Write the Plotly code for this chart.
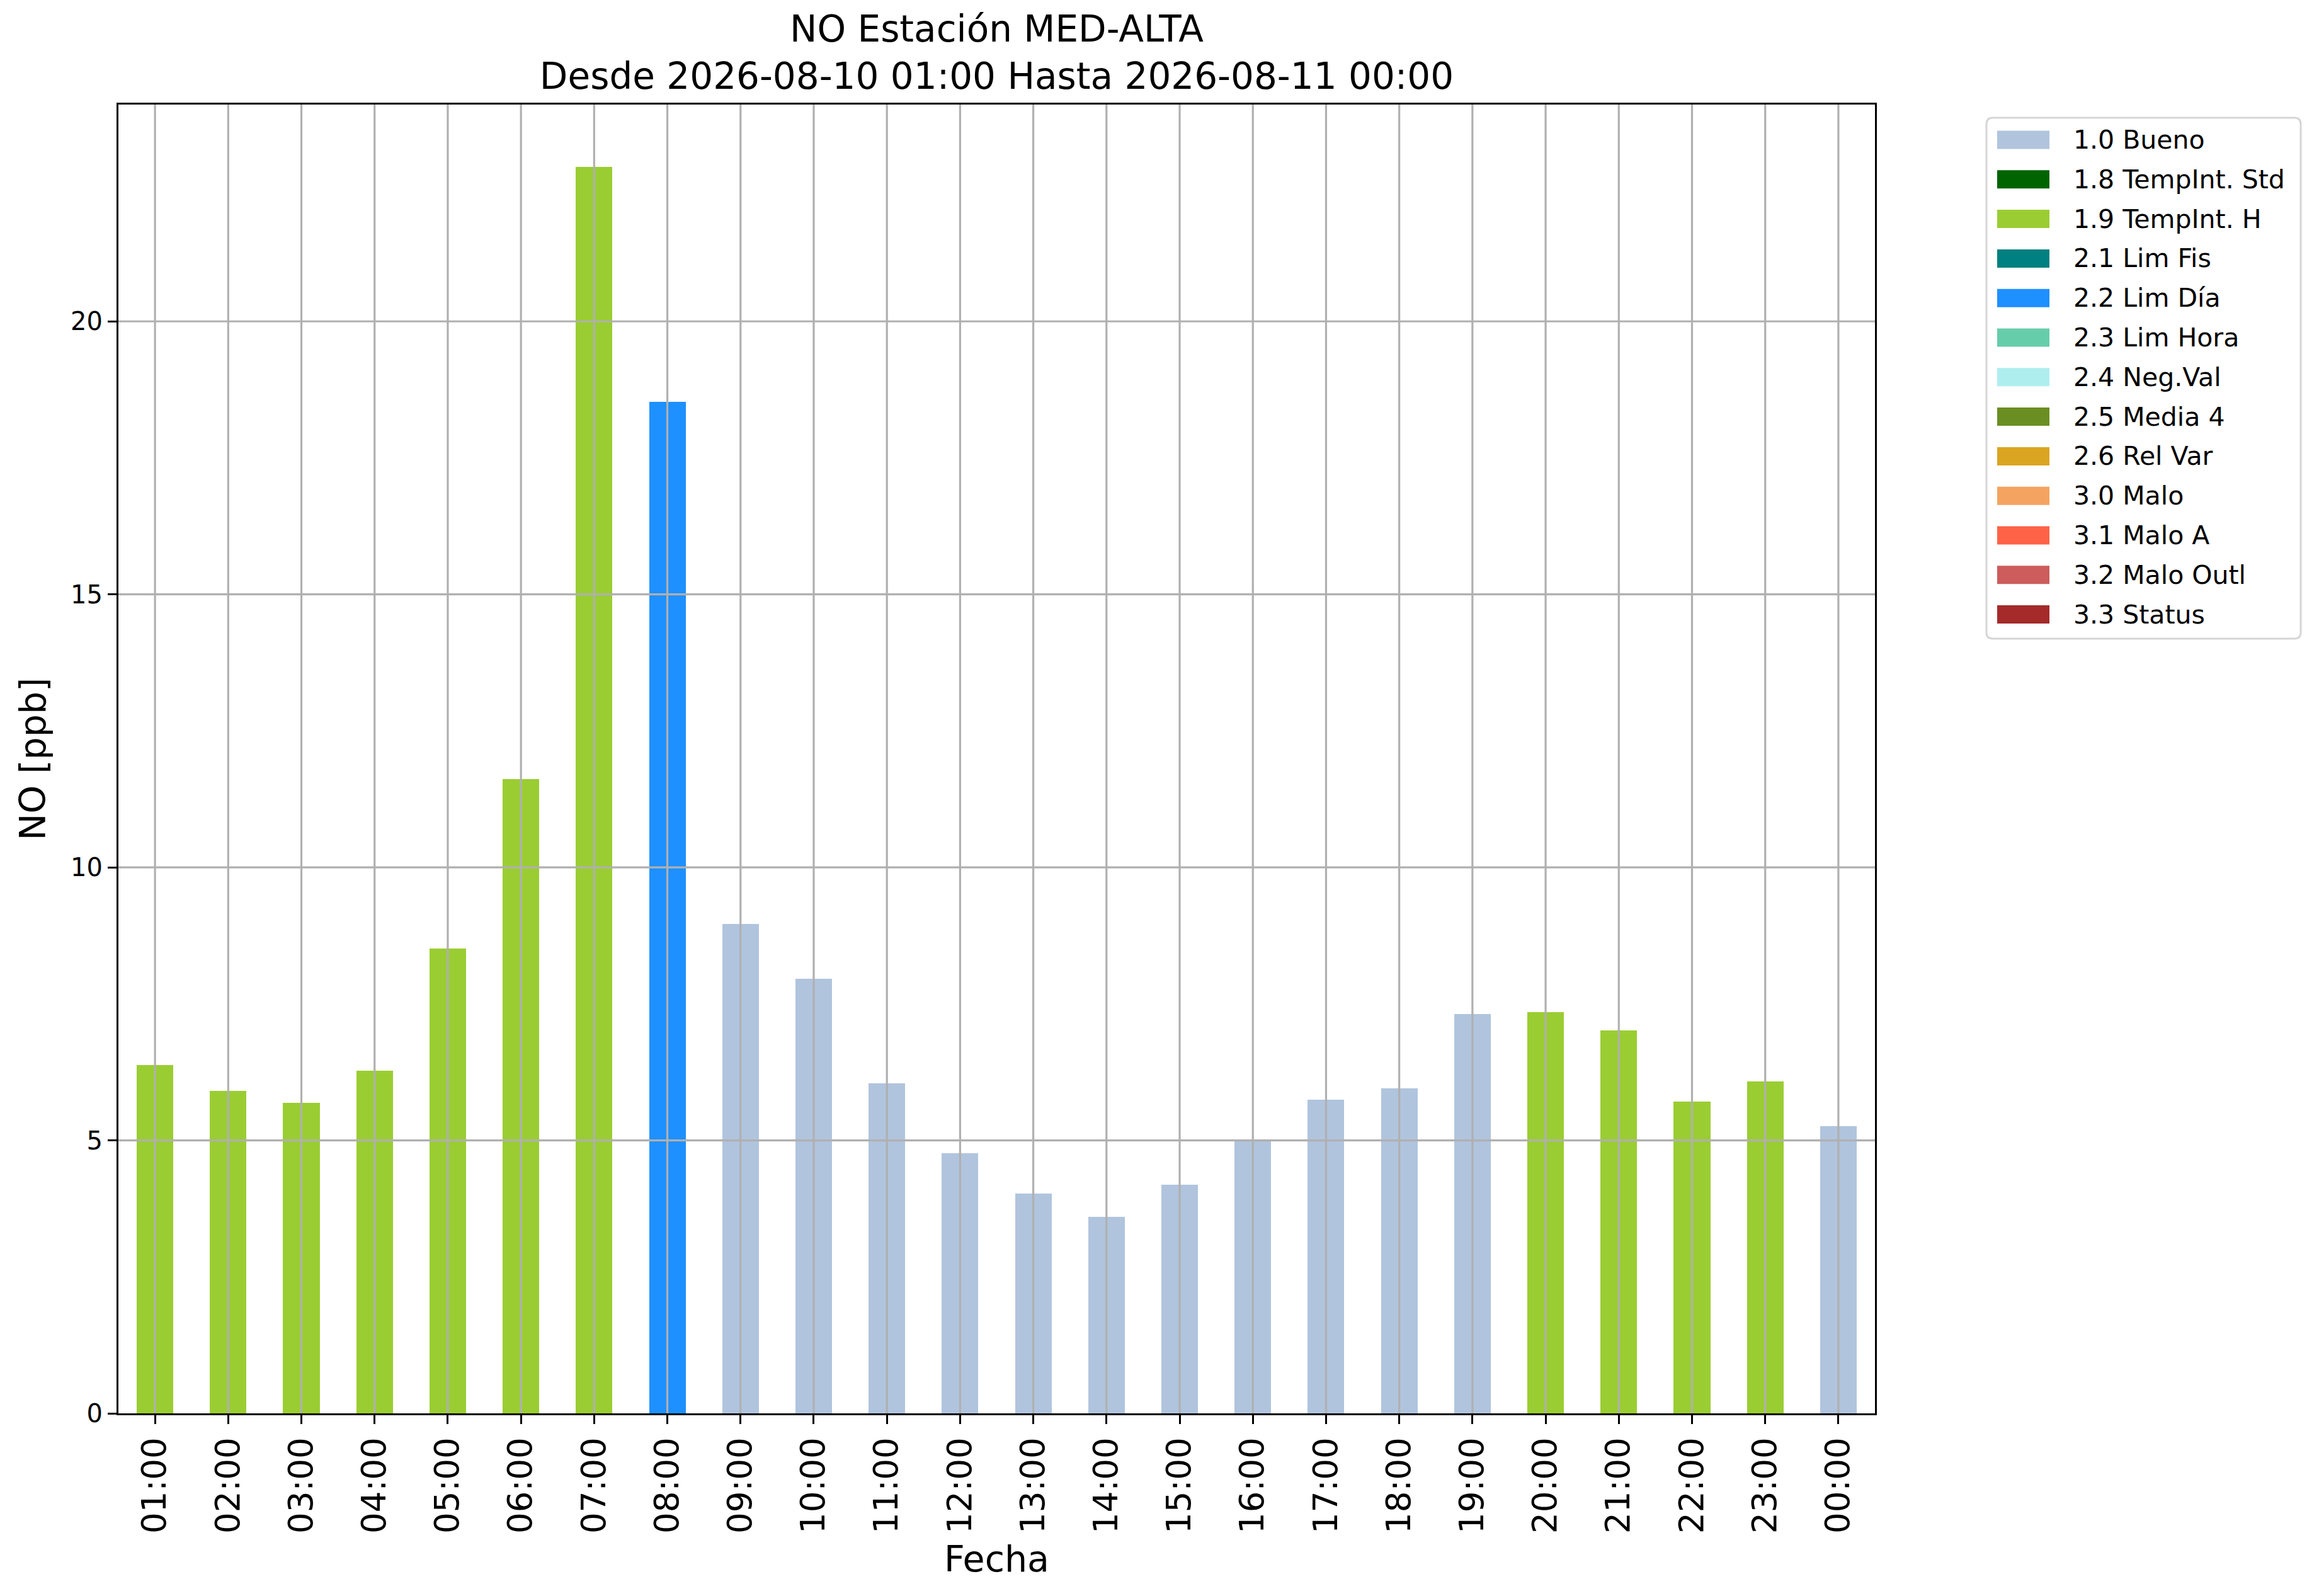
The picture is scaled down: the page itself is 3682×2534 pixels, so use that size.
import plotly.graph_objects as go

# ---------------- data ----------------
hours = ["01:00", "02:00", "03:00", "04:00", "05:00", "06:00", "07:00", "08:00",
         "09:00", "10:00", "11:00", "12:00", "13:00", "14:00", "15:00", "16:00",
         "17:00", "18:00", "19:00", "20:00", "21:00", "22:00", "23:00", "00:00"]
no_values = [6.38, 5.91, 5.69, 6.28, 8.51, 11.62, 22.83, 18.53,
             8.96, 7.96, 6.05, 4.76, 4.03, 3.60, 4.19, 4.99,
             5.75, 5.95, 7.31, 7.35, 7.01, 5.71, 6.08, 5.26]
flags = ["1.9", "1.9", "1.9", "1.9", "1.9", "1.9", "1.9", "2.2",
         "1.0", "1.0", "1.0", "1.0", "1.0", "1.0", "1.0", "1.0",
         "1.0", "1.0", "1.0", "1.9", "1.9", "1.9", "1.9", "1.0"]
flag_codes = ["1.0", "1.8", "1.9", "2.1", "2.2", "2.3", "2.4", "2.5", "2.6",
              "3.0", "3.1", "3.2", "3.3"]
flag_names = ["1.0 Bueno", "1.8 TempInt. Std", "1.9 TempInt. H", "2.1 Lim Fis",
              "2.2 Lim Día", "2.3 Lim Hora", "2.4 Neg.Val", "2.5 Media 4",
              "2.6 Rel Var", "3.0 Malo", "3.1 Malo A", "3.2 Malo Outl", "3.3 Status"]
flag_colors = ["#B0C4DE", "#006400", "#9ACD32", "#008080", "#1E90FF", "#66CDAA",
               "#AFEEEE", "#6B8E23", "#DAA520", "#F4A460", "#FF6347", "#CD5C5C",
               "#A52A2A"]
y_ticks = [0, 5, 10, 15, 20]

FONT = "DejaVu Sans"
GRID = "#b0b0b0"

W, H = 3682, 2534
ML, MR, MT, MB = 188, 705, 166, 290
PW, PH = W - ML - MR, H - MT - MB


def px_x(px):
    return (px - ML) / PW


def px_y(py):
    return (H - MB - py) / PH


fig = go.Figure()

for code, name, color in zip(flag_codes, flag_names, flag_colors):
    yv = [v if f == code else None for v, f in zip(no_values, flags)]
    fig.add_trace(go.Bar(x=hours, y=yv, name=name,
                         marker=dict(color=color, line=dict(width=0)),
                         width=0.5, showlegend=False))

# grid lines drawn above the bars (as in the reference)
for h in hours:
    fig.add_shape(type="line", xref="x", yref="paper", x0=h, x1=h, y0=0, y1=1,
                  line=dict(color=GRID, width=3.2), layer="above")
for t in y_ticks:
    if t > 0:
        fig.add_shape(type="line", xref="paper", yref="y", x0=0, x1=1, y0=t, y1=t,
                      line=dict(color=GRID, width=3.2), layer="above")

# ---- legend box (matplotlib style: wide swatches, rounded frame) ----
lx0, ly0, lx1, ly1 = 3154, 187, 3653, 1014
r = 10
rx, ry = r / PW, r / PH
X0, X1, Y0, Y1 = px_x(lx0), px_x(lx1), px_y(ly1), px_y(ly0)
path = (f"M {X0 + rx},{Y1} L {X1 - rx},{Y1} Q {X1},{Y1} {X1},{Y1 - ry} "
        f"L {X1},{Y0 + ry} Q {X1},{Y0} {X1 - rx},{Y0} "
        f"L {X0 + rx},{Y0} Q {X0},{Y0} {X0},{Y0 + ry} "
        f"L {X0},{Y1 - ry} Q {X0},{Y1} {X0 + rx},{Y1} Z")
fig.add_shape(type="path", xref="paper", yref="paper", path=path,
              line=dict(color="#d6d6d6", width=3), fillcolor="white", layer="above")
row0, row_step = 222, 62.8
for i, (name, color) in enumerate(zip(flag_names, flag_colors)):
    cy = row0 + i * row_step
    fig.add_shape(type="rect", xref="paper", yref="paper",
                  x0=px_x(3171), x1=px_x(3254), y0=px_y(cy + 14.5), y1=px_y(cy - 14.5),
                  line=dict(width=0), fillcolor=color, layer="above")
    fig.add_annotation(text=name, xref="paper", yref="paper", x=px_x(3290), y=px_y(cy),
                       xanchor="left", yanchor="middle", showarrow=False,
                       font=dict(family=FONT, size=41, color="black"))

ymax = max(no_values) * 1.05

fig.update_layout(
    width=W, height=H, autosize=False,
    margin=dict(l=ML, r=MR, t=MT, b=MB, pad=0),
    paper_bgcolor="white", plot_bgcolor="white",
    font=dict(family=FONT, color="black", size=41),
    barmode="stack", showlegend=False,
    title=dict(text="NO Estación MED-ALTA<br>Desde 2026-08-10 01:00 Hasta 2026-08-11 00:00",
               font=dict(family=FONT, size=58, color="black"),
               x=px_x((ML + W - MR) / 2), xref="paper", xanchor="center",
               y=1 - 66 / H, yref="container", yanchor="top"),
    xaxis=dict(type="category", categoryorder="array", categoryarray=hours,
               range=[-0.5, len(hours) - 0.5],
               showgrid=False, showline=True, mirror=True, linecolor="black", linewidth=3.2,
               ticks="outside", ticklen=14, tickwidth=3.2, tickcolor="black",
               tickangle=-90, tickfont=dict(family=FONT, size=53, color="black"),
               title=dict(text="Fecha", font=dict(family=FONT, size=57, color="black"), standoff=22),
               zeroline=False),
    yaxis=dict(range=[0, ymax], tickvals=y_ticks, ticktext=[str(t) for t in y_ticks],
               showgrid=False, showline=True, mirror=True, linecolor="black", linewidth=3.2,
               ticks="outside", ticklen=14, tickwidth=3.2, tickcolor="black",
               tickfont=dict(family=FONT, size=40, color="black"),
               title=dict(text="NO [ppb]", font=dict(family=FONT, size=57, color="black"), standoff=22),
               zeroline=False),
)

fig.write_html("out.html", config={"displayModeBar": False},
               post_script="document.body.style.margin='0';")
